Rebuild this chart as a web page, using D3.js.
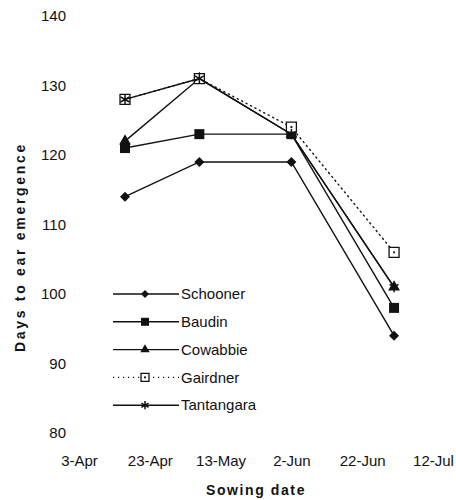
<!DOCTYPE html>
<html>
<head>
<meta charset="utf-8">
<script src="https://cdn.jsdelivr.net/npm/d3@7"></script>
<style>
  body { margin: 0; background: #fff; }
  svg text { font-family: "Liberation Sans", Arial, sans-serif; fill: #111; }
</style>
</head>
<body>
<div id="chart"></div>
<script>
// Sowing dates (year is arbitrary)
const sowingDates = ["1997-04-16", "1997-05-07", "1997-06-02", "1997-07-01"];

// Days to ear emergence per cultivar
const schooner   = [114, 119, 119, 94];
const baudin     = [121, 123, 123, 98];
const cowabbie   = [122, 131, 123, 101];
const gairdner   = [128, 131, 124, 106];
const tantangara = [128, 131, 123, 101];

const seriesNames = ["Schooner", "Baudin", "Cowabbie", "Gairdner", "Tantangara"];
const xTickDates = ["1997-04-03", "1997-04-23", "1997-05-13", "1997-06-02", "1997-06-22", "1997-07-12"];
const yTicks = [80, 90, 100, 110, 120, 130, 140];

const w = 456, h = 500;
const parse = d3.timeParse("%Y-%m-%d");

const svg = d3.select("#chart").append("svg")
  .attr("width", w)
  .attr("height", h);

// scales
const x = d3.scaleTime()
  .domain([parse(xTickDates[0]), parse(xTickDates[xTickDates.length - 1])])
  .range([79, 433]);

const y = d3.scaleLinear()
  .domain([80, 140])
  .range([433, 16]);

// axes (lines were lost in the scan, only labels show)
const yAxis = svg.append("g")
  .attr("transform", "translate(" + x.range()[0] + ",0)")
  .call(d3.axisLeft(y).tickValues(yTicks).tickSize(0).tickPadding(13));
yAxis.select(".domain").remove();
yAxis.selectAll("text").style("font-size", "15px");

const xAxis = svg.append("g")
  .attr("transform", "translate(0," + y(80) + ")")
  .call(d3.axisBottom(x).tickValues(xTickDates.map(parse))
    .tickFormat(d3.timeFormat("%-d-%b")).tickSize(0).tickPadding(22));
xAxis.select(".domain").remove();
xAxis.selectAll("text").style("font-size", "15px");

// axis titles
svg.append("text")
  .attr("transform", "translate(25,247) rotate(-90)")
  .attr("text-anchor", "middle")
  .style("font-size", "14px")
  .style("font-weight", "bold")
  .style("letter-spacing", "2.7px")
  .text("Days to ear emergence");

svg.append("text")
  .attr("x", 256)
  .attr("y", 495)
  .attr("text-anchor", "middle")
  .style("font-size", "14px")
  .style("font-weight", "bold")
  .style("letter-spacing", "1.6px")
  .text("Sowing date");

// markers, r = half size in px
function markerPath(name, r) {
  if (name === "Schooner") {
    return "M0," + (-r) + "L" + r + ",0L0," + r + "L" + (-r) + ",0Z";
  }
  if (name === "Cowabbie") {
    return d3.symbol().type(d3.symbolTriangle).size(r * r * 2.4)();
  }
  if (name === "Tantangara") {
    return d3.symbol().type(d3.symbolAsterisk).size(r * r * 3)();
  }
  return d3.symbol().type(d3.symbolSquare).size(r * r * 4)();
}

const seriesData = [schooner, baudin, cowabbie, gairdner, tantangara];
const dashes = { Gairdner: "1.2,3.8" };

function drawMarker(g, name, cx, cy, r) {
  const m = g.append("path")
    .attr("d", markerPath(name, r))
    .attr("transform", "translate(" + cx + "," + cy + ")");
  if (name === "Gairdner") {
    m.attr("fill", "#fff").attr("stroke", "#111").attr("stroke-width", 1.3);
    g.append("circle").attr("cx", cx).attr("cy", cy).attr("r", 1.1).attr("fill", "#111");
  } else if (name === "Tantangara") {
    m.attr("fill", "none").attr("stroke", "#111").attr("stroke-width", 1.5);
  } else {
    m.attr("fill", "#111");
  }
}

const line = d3.line()
  .x((d, i) => x(parse(sowingDates[i])))
  .y(d => y(d));

seriesNames.forEach((name, k) => {
  const g = svg.append("g");
  g.append("path")
    .datum(seriesData[k])
    .attr("d", line)
    .attr("fill", "none")
    .attr("stroke", "#111")
    .attr("stroke-width", 1.4)
    .attr("stroke-linecap", "round")
    .attr("stroke-dasharray", dashes[name] || null);
  seriesData[k].forEach((v, i) => drawMarker(g, name, x(parse(sowingDates[i])), y(v), 5));
});

// legend
const legend = svg.append("g");
seriesNames.forEach((name, k) => {
  const ly = 294 + k * 27.8;
  const g = legend.append("g");
  g.append("line")
    .attr("x1", 113).attr("x2", 179)
    .attr("y1", ly).attr("y2", ly)
    .attr("stroke", "#111")
    .attr("stroke-width", 1.4)
    .attr("stroke-dasharray", dashes[name] || null);
  drawMarker(g, name, 145, ly, 4);
  g.append("text")
    .attr("x", 181)
    .attr("y", ly)
    .attr("dy", "0.35em")
    .style("font-size", "15px")
    .text(name);
});
</script>
</body>
</html>
